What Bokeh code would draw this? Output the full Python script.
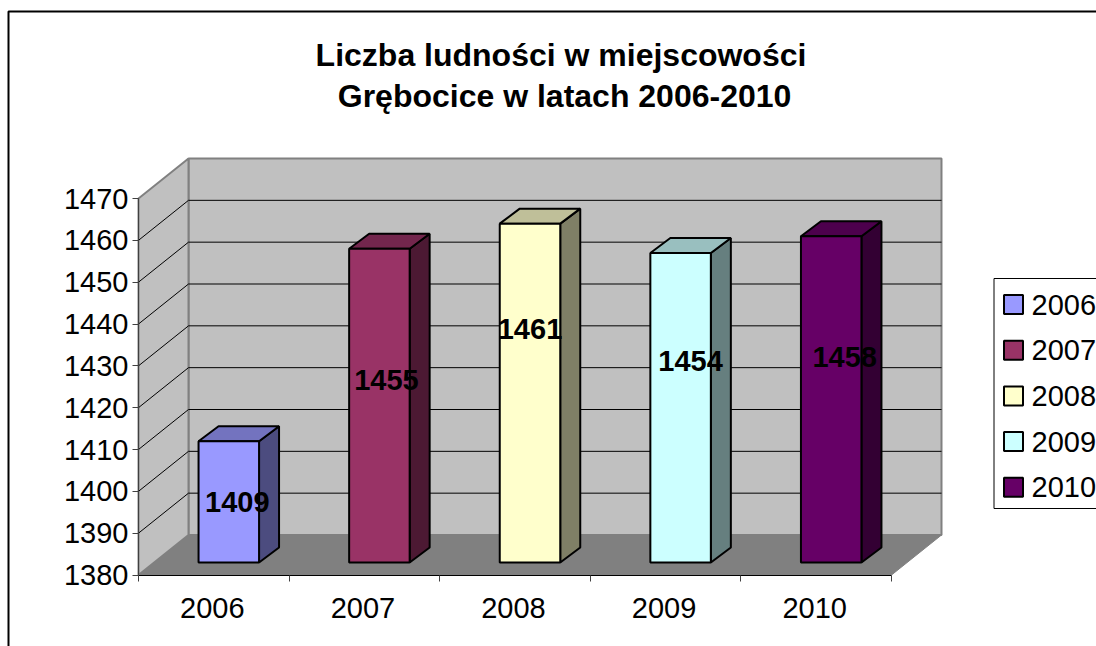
from bokeh.plotting import figure
from bokeh.embed import file_html
from bokeh.resources import INLINE
from bokeh.models import FixedTicker, LinearAxis, Range1d
from bokeh.core.properties import value

years = ["2006", "2007", "2008", "2009", "2010"]
population = [1409, 1455, 1461, 1454, 1458]
y_ticks = [1380, 1390, 1400, 1410, 1420, 1430, 1440, 1450, 1460, 1470]
front_colors = ["#9999ff", "#993366", "#ffffcc", "#ccffff", "#660066"]
top_colors = ["#7373bf", "#73264d", "#bfbf99", "#99bfbf", "#4d004d"]
side_colors = ["#4c4c7f", "#4c1933", "#7f7f66", "#667f7f", "#330033"]
title_lines = ["Liczba ludności w miejscowości", " Grębocice w latach 2006-2010"]

# layout constants (pixels)
FONT = "Liberation Sans"
W, H = 1096, 646
LEFT, BASE = 138, 574.5
CAT_PX = 150.6
Y_PX = 376.5 / 90
WALL_DX, WALL_DY = 50, 40
BAR_DX, BAR_DY = 20, 15
BAR_W = 60.5
label_dx = [8.5, 7, 0, 10, 13.5]
label_dy = [0.5, -26, -64.5, -46.5, -42]
title_cx = [560.5, 568.5]
title_cy = [54, 95]
XLAB_SHIFT = 1.5


def xp(px):
    return (px - LEFT) / CAT_PX


def yp(py):
    return 1380 + (BASE - py) / Y_PX


ymin, ymax = y_ticks[0], y_ticks[-1]
ncat = len(years)

p = figure(width=W, height=H, output_backend="svg", toolbar_location=None,
           x_range=Range1d(xp(0), xp(W)), y_range=Range1d(yp(H), yp(0)),
           x_axis_type=None, y_axis_type=None,
           min_border=0, outline_line_color=None,
           background_fill_color="white", border_fill_color="white")
p.grid.visible = False

wx, wy = WALL_DX / CAT_PX, WALL_DY / Y_PX
bx, by = BAR_DX / CAT_PX, BAR_DY / Y_PX
ox, oy = (wx - bx) / 2, (wy - by) / 2
bw = BAR_W / CAT_PX

GREY = "#808080"
WALL = "#c0c0c0"

# outer chart border (right and bottom edges fall outside the picture)
p.line([xp(8), xp(8), xp(W + 5)], [yp(H + 5), yp(11), yp(11)],
       line_color="black", line_width=2)

# floor
p.patch([0, ncat, ncat + wx, wx], [ymin, ymin, ymin + wy, ymin + wy],
        fill_color=GREY, line_color=GREY, line_width=1)
# back wall
p.quad(left=wx, right=ncat + wx, bottom=ymin + wy, top=ymax + wy,
       fill_color=WALL, line_color=GREY, line_width=2)
# side wall
p.patch([0, wx, wx, 0], [ymin, ymin + wy, ymax + wy, ymax],
        fill_color=WALL, line_color=GREY, line_width=2)
# gridlines
inner = y_ticks[1:-1]
p.multi_line([[0, wx, ncat + wx] for _ in inner],
             [[t, t + wy, t + wy] for t in inner],
             line_color="black", line_width=1)

# bars
for i, v in enumerate(population):
    l = i + 0.5 - bw / 2 + ox
    r = l + bw
    b = ymin + oy
    t = v + oy
    p.patch([r, r + bx, r + bx, r], [b, b + by, t + by, t],
            fill_color=side_colors[i], line_color="black", line_width=2)
    p.patch([l, r, r + bx, l + bx], [t, t, t + by, t + by],
            fill_color=top_colors[i], line_color="black", line_width=2)
    p.quad(left=l, right=r, bottom=b, top=t,
           fill_color=front_colors[i], line_color="black", line_width=2)

# value labels
for i, v in enumerate(population):
    p.text([i + 0.5 + ox], [(ymin + v) / 2 + oy], text=[str(v)], text_font=value(FONT),
           text_font_style="bold", text_font_size="29px", text_color="black",
           text_align="center", text_baseline="middle",
           x_offset=label_dx[i], y_offset=label_dy[i])

# axes
yaxis = LinearAxis(ticker=FixedTicker(ticks=y_ticks), bounds=(ymin, ymax), fixed_location=0)
yaxis.major_label_text_font = FONT
yaxis.major_label_text_font_size = "29px"
yaxis.major_label_text_color = "black"
yaxis.major_label_standoff = 4
yaxis.major_tick_out = 6
yaxis.major_tick_in = 0
yaxis.minor_tick_out = 0
yaxis.minor_tick_in = 0
yaxis.axis_line_color = "#404040"
yaxis.major_tick_line_color = "#404040"
p.add_layout(yaxis, "left")

label_ticks = [i + 0.5 - XLAB_SHIFT / CAT_PX for i in range(ncat)]
xaxis = LinearAxis(ticker=FixedTicker(ticks=label_ticks, minor_ticks=list(range(ncat + 1))),
                   bounds=(0, ncat), fixed_location=ymin)
xaxis.major_label_overrides = dict(zip(label_ticks, years))
xaxis.major_label_text_font = FONT
xaxis.major_label_text_font_size = "29px"
xaxis.major_label_text_color = "black"
xaxis.major_label_standoff = 17
xaxis.major_tick_out = 0
xaxis.major_tick_in = 0
xaxis.minor_tick_out = 6
xaxis.minor_tick_in = 0
xaxis.axis_line_color = "black"
xaxis.minor_tick_line_color = "#404040"
p.add_layout(xaxis, "below")

# title
for line, cx, cy in zip(title_lines, title_cx, title_cy):
    p.text([xp(cx)], [yp(cy)], text=[line], text_font=value(FONT),
           text_font_style="bold", text_font_size="32px", text_color="black",
           text_align="center", text_baseline="middle")

# legend
LEG_L, LEG_T, LEG_B = 993.5, 278, 508
p.quad(left=xp(LEG_L), right=xp(W + 5), top=yp(LEG_T), bottom=yp(LEG_B),
       fill_color="white", line_color="black", line_width=1)
for i, y in enumerate(years):
    cy = 304 + i * 45.7
    p.quad(left=xp(1003.5), right=xp(1022.5), top=yp(cy - 9.5), bottom=yp(cy + 9.5),
           fill_color=front_colors[i], line_color="black", line_width=2)
    p.text([xp(1031)], [yp(cy)], text=[y], text_font=value(FONT), text_font_size="29px",
           text_color="black", text_align="left", text_baseline="middle")

open("out.html", "w").write(file_html(p, INLINE))
